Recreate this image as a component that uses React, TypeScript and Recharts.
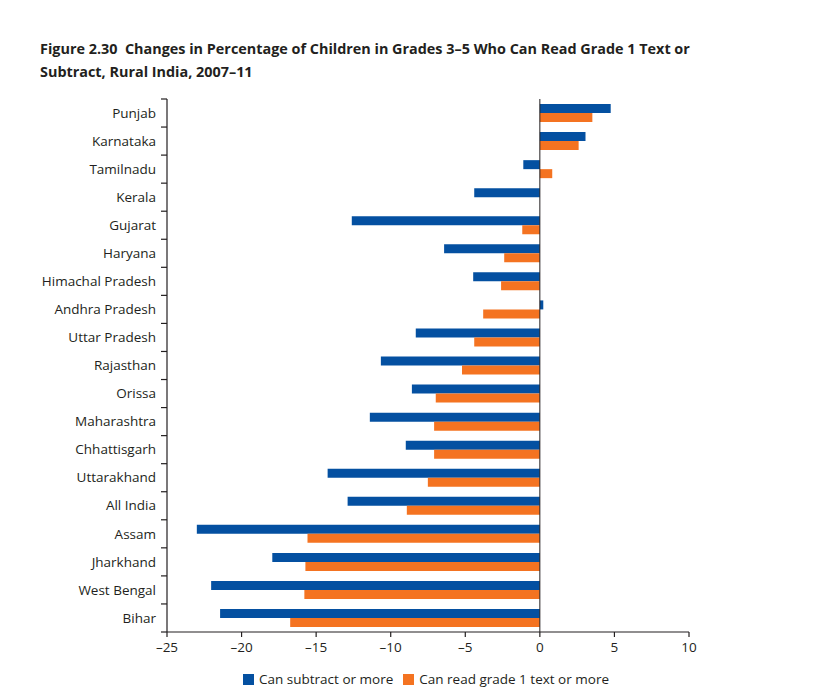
import { Bar, BarChart, ReferenceLine, XAxis, YAxis } from 'recharts';

const states = [
  'Punjab', 'Karnataka', 'Tamilnadu', 'Kerala', 'Gujarat', 'Haryana',
  'Himachal Pradesh', 'Andhra Pradesh', 'Uttar Pradesh', 'Rajasthan', 'Orissa',
  'Maharashtra', 'Chhattisgarh', 'Uttarakhand', 'All India', 'Assam',
  'Jharkhand', 'West Bengal', 'Bihar',
];
const canSubtract = [
  4.75, 3.06, -1.11, -4.4, -12.61, -6.42, -4.47, 0.23, -8.32, -10.66, -8.58,
  -11.4, -8.99, -14.23, -12.89, -23.0, -17.94, -22.04, -21.44,
];
const canRead = [
  3.52, 2.6, 0.83, 0, -1.18, -2.39, -2.6, -3.8, -4.4, -5.22, -6.98,
  -7.09, -7.09, -7.51, -8.92, -15.58, -15.72, -15.79, -16.74,
];
const xTicks = [-25, -20, -15, -10, -5, 0, 5, 10];

const BLUE = '#0450a1';
const ORANGE = '#f47321';
const INK = '#231f20';
const FONT = '"Myriad Pro", "Open Sans", sans-serif';

const W = 818;
const H = 694;
const X_AXIS_H = 30;
const M = { top: 99, right: 129, bottom: 62 - X_AXIS_H, left: 40 };
const BAND = (H - M.top - M.bottom - X_AXIS_H) / states.length;

const data = states.map((name, i) => ({
  name,
  subtract: canSubtract[i],
  read: canRead[i],
}));

function StateTick(props: any) {
  const { x, y, payload, index } = props;
  const ax = x + 11;
  const last = index === states.length - 1;
  return (
    <g>
      <line x1={ax - 6} x2={ax} y1={y - BAND / 2} y2={y - BAND / 2} stroke={INK} strokeWidth={1.2} />
      {last && (
        <line x1={ax - 6} x2={ax} y1={y + BAND / 2} y2={y + BAND / 2} stroke={INK} strokeWidth={1.2} />
      )}
      <text x={x} y={y} dy="0.35em" textAnchor="end" fill={INK} fontSize={13.5} fontFamily={FONT}>
        {payload.value}
      </text>
    </g>
  );
}

function LegendBox() {
  const item = (color: string, label: string) => (
    <span style={{ display: 'inline-flex', alignItems: 'center', marginRight: 10 }}>
      <span style={{ width: 11, height: 11, background: color, display: 'inline-block', marginRight: 5 }} />
      {label}
    </span>
  );
  return (
    <div
      style={{
        position: 'absolute',
        left: 0,
        top: 670,
        width: W - 10,
        fontFamily: FONT,
        fontSize: 13.5,
        color: INK,
        textAlign: 'center',
        paddingLeft: 54,
        boxSizing: 'border-box',
      }}
    >
      {item(BLUE, 'Can subtract or more')}
      {item(ORANGE, 'Can read grade 1 text or more')}
    </div>
  );
}

export default function App() {
  return (
    <div style={{ position: 'absolute', left: 0, top: 0, width: W, height: H, background: '#fff' }}>
      <div
        style={{
          position: 'absolute',
          left: 40,
          top: 37,
          fontFamily: '"Open Sans", sans-serif',
          fontWeight: 700,
          fontSize: 14.4,
          letterSpacing: 0,
          lineHeight: '23px',
          color: INK,
        }}
      >
        Figure 2.30&nbsp;&nbsp;Changes in Percentage of Children in Grades 3–5 Who Can Read Grade 1 Text or
        <br />
        Subtract, Rural India, 2007–11
      </div>
      <BarChart
        width={W}
        height={H}
        data={data}
        layout="vertical"
        margin={M}
        barGap={0}
        barCategoryGap="18%"
        style={{ position: 'absolute', left: 0, top: 0 }}
      >
        <XAxis
          type="number"
          domain={[-25, 10]}
          ticks={xTicks}
          allowDataOverflow
          height={X_AXIS_H}
          tickSize={5}
          tickMargin={5}
          stroke={INK}
          axisLine={{ stroke: INK, strokeWidth: 1.2 }}
          tickLine={{ stroke: INK, strokeWidth: 1.2 }}
          tick={{ fill: INK, fontSize: 13.5, fontFamily: FONT }}
          tickFormatter={(v: number) => (v < 0 ? `–${-v}` : `${v}`)}
        />
        <YAxis
          type="category"
          dataKey="name"
          width={127}
          tickSize={6}
          tickMargin={5}
          tickLine={false}
          axisLine={{ stroke: INK, strokeWidth: 1.2 }}
          tick={<StateTick />}
          interval={0}
        />
        <ReferenceLine x={0} stroke={INK} strokeWidth={1} />
        <Bar dataKey="subtract" fill={BLUE} isAnimationActive={false} />
        <Bar dataKey="read" fill={ORANGE} isAnimationActive={false} />
      </BarChart>
      <LegendBox />
    </div>
  );
}
